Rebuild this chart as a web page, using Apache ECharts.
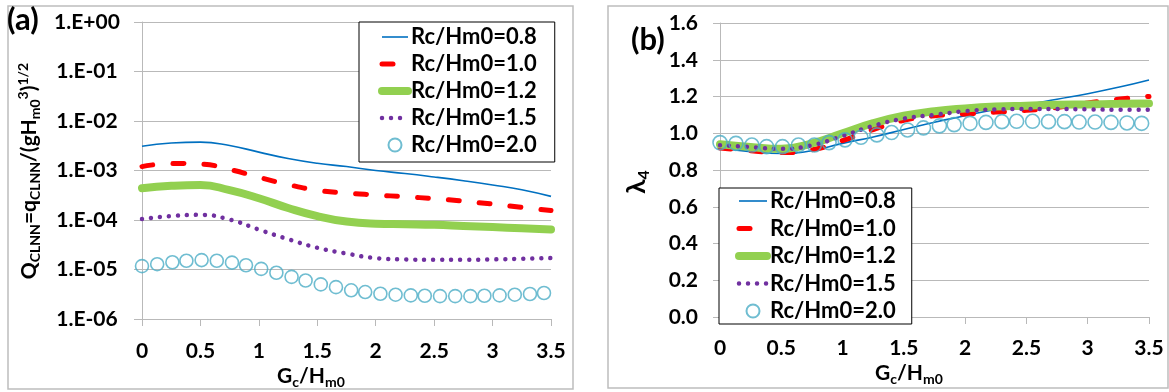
<!DOCTYPE html>
<html>
<head>
<meta charset="utf-8">
<title>Q_CLNN and lambda_4 vs Gc/Hm0</title>
<script src="https://cdn.jsdelivr.net/npm/echarts@6/dist/echarts.min.js"></script>
<style>
  html, body { margin: 0; padding: 0; background: #fff; }
  #main { width: 1169px; height: 392px; }
</style>
</head>
<body>
<div id="main"></div>
<script>
// Gc/Hm0 positions: smooth lines are read every 0.25, circle markers every ~0.1275
const xLine = [0, 0.25, 0.5, 0.75, 1, 1.25, 1.5, 1.75, 2, 2.25, 2.5, 2.75, 3, 3.25, 3.5];
const xCircle = [0, 0.13, 0.26, 0.38, 0.51, 0.64, 0.77, 0.89, 1.02, 1.15, 1.28, 1.4, 1.53, 1.66,
  1.79, 1.91, 2.04, 2.17, 2.3, 2.42, 2.55, 2.68, 2.81, 2.93, 3.06, 3.19, 3.32, 3.44];

const seriesNames = ['Rc/Hm0=0.8', 'Rc/Hm0=1.0', 'Rc/Hm0=1.2', 'Rc/Hm0=1.5', 'Rc/Hm0=2.0'];

// (a) Q_CLNN (log scale)
const qRc08 = [3.1e-3, 3.6e-3, 3.75e-3, 3.2e-3, 2.35e-3, 1.75e-3, 1.4e-3, 1.2e-3, 1.0e-3, 8.7e-4, 7.4e-4, 6.2e-4, 5.1e-4, 4.1e-4, 3.0e-4];
const qRc10 = [1.2e-3, 1.38e-3, 1.35e-3, 1.05e-3, 7.3e-4, 5.2e-4, 4.0e-4, 3.5e-4, 3.2e-4, 2.95e-4, 2.7e-4, 2.4e-4, 2.1e-4, 1.8e-4, 1.55e-4];
const qRc12 = [4.4e-4, 4.9e-4, 5.1e-4, 4.0e-4, 2.75e-4, 1.75e-4, 1.2e-4, 9.3e-5, 8.4e-5, 8.2e-5, 8.0e-5, 7.6e-5, 7.2e-5, 6.8e-5, 6.4e-5];
const qRc15 = [1.05e-4, 1.2e-4, 1.27e-4, 1.02e-4, 6.4e-5, 4.1e-5, 2.75e-5, 2.1e-5, 1.7e-5, 1.6e-5, 1.57e-5, 1.57e-5, 1.6e-5, 1.65e-5, 1.7e-5];
const qRc20 = [1.17e-5, 1.28e-5, 1.4e-5, 1.5e-5, 1.55e-5, 1.5e-5, 1.38e-5, 1.22e-5, 1.03e-5, 8.6e-6,
  7.1e-6, 6.0e-6, 5.0e-6, 4.4e-6, 3.8e-6, 3.5e-6, 3.24e-6, 3.1e-6, 3.0e-6, 2.95e-6,
  2.9e-6, 2.9e-6, 2.9e-6, 2.95e-6, 3.0e-6, 3.1e-6, 3.2e-6, 3.35e-6];
const logTickLabels = ['1.E-06', '1.E-05', '1.E-04', '1.E-03', '1.E-02', '1.E-01', '1.E+00'];

// (b) lambda_4
const lRc08 = [0.92, 0.90, 0.89, 0.905, 0.945, 0.98, 1.02, 1.06, 1.095, 1.13, 1.155, 1.185, 1.215, 1.25, 1.29];
const lRc10 = [0.92, 0.905, 0.895, 0.91, 0.96, 1.02, 1.07, 1.095, 1.105, 1.115, 1.125, 1.14, 1.165, 1.185, 1.20];
const lRc12 = [0.94, 0.925, 0.915, 0.945, 1.0, 1.055, 1.095, 1.12, 1.135, 1.145, 1.15, 1.155, 1.157, 1.16, 1.162];
const lRc15 = [0.935, 0.925, 0.915, 0.935, 0.985, 1.04, 1.08, 1.10, 1.12, 1.13, 1.132, 1.132, 1.13, 1.128, 1.128];
const lRc20 = [0.949, 0.945, 0.936, 0.927, 0.927, 0.936, 0.936, 0.949, 0.964, 0.978,
  0.991, 1.004, 1.018, 1.029, 1.040, 1.047, 1.054, 1.059, 1.063, 1.065,
  1.065, 1.063, 1.063, 1.061, 1.061, 1.059, 1.056, 1.054];

(function () {
    const FONT = 'Lato';
    const GRIDC = '#b9b9b9';

    // line look of the four Rc/Hm0 curves (0.8, 1.0, 1.2, 1.5)
    const lineLooks = [
        { color: '#0070C0', width: 1.6, type: 'solid', cap: 'butt' },
        { color: '#FF0000', width: 5, type: [11, 20], cap: 'round' },
        { color: '#92D050', width: 8, type: 'solid', cap: 'round' },
        { color: '#7030A0', width: 4.5, type: [0.01, 9], cap: 'round' }
    ];

    function pairs(xs, ys) {
        return ys.map(function (v, i) { return [xs[i], v]; });
    }

    function panelSeries(idx, data, circleSize) {
        const out = lineLooks.map(function (s, k) {
            return {
                name: seriesNames[k],
                type: 'line',
                xAxisIndex: idx,
                yAxisIndex: idx,
                smooth: true,
                symbol: 'none',
                data: pairs(xLine, data[k]),
                lineStyle: { color: s.color, width: s.width, type: s.type, cap: s.cap },
                itemStyle: { color: s.color },
                z: 2 + k
            };
        });
        out.push({
            name: seriesNames[4],
            type: 'scatter',
            xAxisIndex: idx,
            yAxisIndex: idx,
            symbol: 'circle',
            symbolSize: circleSize,
            data: pairs(xCircle, data[4]),
            itemStyle: { color: 'rgba(0,0,0,0)', borderColor: '#4BACC6', borderWidth: 1.6 },
            z: 7
        });
        return out;
    }

    // legend items: lines without the default dot, real line widths
    function legendItems(dashScale) {
        const items = lineLooks.map(function (s, k) {
            return {
                name: seriesNames[k],
                itemStyle: { opacity: 0 },
                lineStyle: { width: s.width, type: s.type, cap: s.cap }
            };
        });
        items.push({ name: seriesNames[4] });
        return items;
    }

    function legendCfg(left, top, padding, itemWidth, gap) {
        return {
            data: legendItems(),
            orient: 'vertical',
            left: left,
            top: top,
            padding: padding,
            itemGap: gap,
            itemWidth: itemWidth,
            itemHeight: 13,
            backgroundColor: '#fff',
            borderColor: '#000',
            borderWidth: 1,
            selectedMode: false,
            textStyle: { fontFamily: FONT, fontWeight: 'bold', fontSize: 22, lineHeight: 22, color: '#000', padding: [0, 0, 0, -2] }
        };
    }

    const tickText = { fontFamily: FONT, fontWeight: 'bold', fontSize: 21, color: '#000' };
    const richName = {
        n: { fontFamily: FONT, fontWeight: 'bold', fontSize: 21, lineHeight: 26, color: '#000' },
        s: { fontFamily: FONT, fontWeight: 'bold', fontSize: 14, lineHeight: 13, verticalAlign: 'bottom', color: '#000' },
        p: { fontFamily: FONT, fontWeight: 'bold', fontSize: 14, lineHeight: 11, verticalAlign: 'top', color: '#000' }
    };

    let chartDom = document.getElementById('main');
    let myChart = echarts.init(chartDom);

    let option = {
        animation: false,
        backgroundColor: '#fff',
        grid: [
            { left: 142, top: 22, width: 409, height: 297 },
            { left: 720, top: 23, width: 429, height: 294 }
        ],
        xAxis: [0, 1].map(function (i) {
            return {
                type: 'value',
                gridIndex: i,
                min: 0,
                max: 3.5,
                interval: 0.5,
                axisLine: { onZero: false, lineStyle: { color: GRIDC, width: 1 } },
                axisTick: { show: true, length: 7, lineStyle: { color: GRIDC } },
                axisLabel: Object.assign({ margin: i === 0 ? 22 : 21 }, tickText),
                splitLine: { show: false }
            };
        }),
        yAxis: [
            {
                type: 'log',
                gridIndex: 0,
                logBase: 10,
                min: 1e-6,
                max: 1,
                splitNumber: 6,
                axisLine: { show: true, lineStyle: { color: GRIDC } },
                axisTick: { show: true, length: 8, lineStyle: { color: GRIDC } },
                axisLabel: Object.assign({
                    margin: 55,
                    align: 'center',
                    formatter: function (v) {
                        return logTickLabels[Math.round(Math.log10(v)) + 6];
                    }
                }, tickText),
                splitLine: { lineStyle: { color: GRIDC, width: 1 } }
            },
            {
                type: 'value',
                gridIndex: 1,
                min: 0,
                max: 1.6,
                interval: 0.2,
                axisLine: { show: true, lineStyle: { color: GRIDC } },
                axisTick: { show: true, length: 7, lineStyle: { color: GRIDC } },
                axisLabel: Object.assign({
                    margin: 22,
                    formatter: function (v) { return v.toFixed(1); }
                }, tickText),
                splitLine: { lineStyle: { color: GRIDC, width: 1 } }
            }
        ],
        legend: [
            legendCfg(359, 22, [4, 18, 6, 19], 26, 5),
            legendCfg(719, 188, [2, 16, 2, 16], 28, 5.5)
        ],
        graphic: [
            // panel frames
            { type: 'rect', shape: { x: 8, y: 6, width: 565, height: 383 }, style: { fill: 'none', stroke: '#bdbdbd', lineWidth: 1.5 }, z: -1 },
            { type: 'rect', shape: { x: 608, y: 6, width: 560, height: 382 }, style: { fill: 'none', stroke: '#bdbdbd', lineWidth: 1.5 }, z: -1 },
            // panel tags
            { type: 'text', x: 7, y: 20, style: { text: '(a)', fontFamily: FONT, fontWeight: 'bold', fontSize: 31, fill: '#000', verticalAlign: 'middle' }, z: 10 },
            { type: 'text', x: 631, y: 40, style: { text: '(b)', fontFamily: FONT, fontWeight: 'bold', fontSize: 31, fill: '#000', verticalAlign: 'middle' }, z: 10 },
            // axis titles
            {
                type: 'text', x: 29, y: 171, rotation: Math.PI / 2, z: 10,
                style: {
                    text: '{n|Q}{s|CLNN}{n|=q}{s|CLNN}{n|/(gH}{s|m0}{p|3}{n|)}{p|1/2}',
                    rich: richName, align: 'center', verticalAlign: 'middle'
                }
            },
            {
                type: 'text', x: 637, y: 182, rotation: Math.PI / 2, z: 10,
                style: {
                    text: '{n|λ}{s|4}',
                    rich: {
                        n: { fontFamily: FONT, fontWeight: 'bold', fontSize: 26, lineHeight: 30, color: '#000' },
                        s: { fontFamily: FONT, fontWeight: 'bold', fontSize: 16, lineHeight: 15, verticalAlign: 'bottom', color: '#000' }
                    },
                    align: 'center', verticalAlign: 'middle'
                }
            },
            { type: 'text', x: 277, y: 376, z: 10, style: { text: '{n|G}{s|c}{n|/H}{s|m0}', rich: richName, verticalAlign: 'middle' } },
            { type: 'text', x: 875, y: 373, z: 10, style: { text: '{n|G}{s|c}{n|/H}{s|m0}', rich: richName, verticalAlign: 'middle' } }
        ],
        series: panelSeries(0, [qRc08, qRc10, qRc12, qRc15, qRc20], 13)
            .concat(panelSeries(1, [lRc08, lRc10, lRc12, lRc15, lRc20], 14))
    };

    myChart.setOption(option);

    window.addEventListener('resize', function () {
        myChart.resize();
    });
})();
</script>
</body>
</html>
